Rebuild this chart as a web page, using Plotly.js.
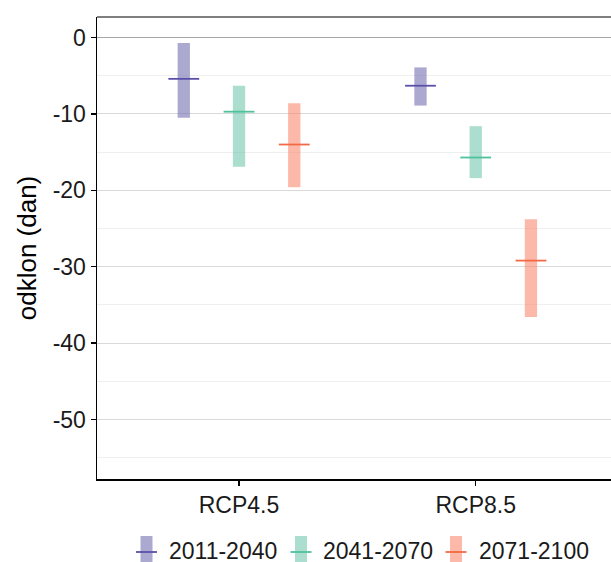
<!DOCTYPE html>
<html><head><meta charset="utf-8">
<script src="https://cdn.plot.ly/plotly-3.0.1.min.js"></script>
<style>html,body{margin:0;padding:0;background:#fff}</style>
</head><body><div id="chart" style="width:611px;height:562px"></div>
<script>
// ---- data ----
const categories = ["RCP4.5", "RCP8.5"];
const periods = ["2011-2040", "2041-2070", "2071-2100"];
const low_2011_2040 = [-10.5, -8.9];
const high_2011_2040 = [-0.7, -3.9];
const median_2011_2040 = [-5.4, -6.3];
const low_2041_2070 = [-16.9, -18.4];
const high_2041_2070 = [-6.3, -11.6];
const median_2041_2070 = [-9.7, -15.7];
const low_2071_2100 = [-19.6, -36.6];
const high_2071_2100 = [-8.6, -23.8];
const median_2071_2100 = [-14.0, -29.2];
const yTickVals = [0, -10, -20, -30, -40, -50];
const yTickText = ["0", "-10", "-20", "-30", "-40", "-50"];

// ---- styles ----
const fillColors = ["rgba(117,112,179,0.6)", "rgba(102,194,165,0.55)", "rgba(250,128,100,0.55)"];
const lineColors = ["#5b50a8", "#4fc29b", "#f26a45"];
const lows = [low_2011_2040, low_2041_2070, low_2071_2100];
const highs = [high_2011_2040, high_2041_2070, high_2071_2100];
const medians = [median_2011_2040, median_2041_2070, median_2071_2100];
const dodge = 0.7 / 3;
const barW = 0.052;

const traces = [];
periods.forEach((p, j) => {
  const xs = categories.map((c, i) => i + 1 + (j - 1) * dodge);
  traces.push({
    type: "bar", x: xs, base: lows[j], y: highs[j].map((h, i) => h - lows[j][i]),
    width: barW, marker: {color: fillColors[j], line: {width: 0}}, showlegend: false, hoverinfo: "skip"
  });
  traces.push({
    type: "scatter", mode: "markers", x: xs, y: medians[j],
    marker: {symbol: "line-ew", size: 22, color: lineColors[j], line: {color: lineColors[j], width: 1.8}},
    showlegend: false
  });
});

// layout geometry (pixels -> paper)
const L = 97, R = 611, T = 17, B = 479;
const px = v => (v - L) / (R - L);
const py = v => (B - v) / (B - T);

const shapes = [
  {type: "line", xref: "paper", yref: "paper", x0: 0, x1: 1, y0: 1, y1: 1, line: {color: "#555", width: 1.5}}
];
const annotations = [];
const legCx = [146.5, 301, 456];
const legTx = [167, 321, 477];
periods.forEach((p, j) => {
  shapes.push({type: "rect", xref: "paper", yref: "paper", x0: px(legCx[j] - 6), x1: px(legCx[j] + 6),
    y0: py(562), y1: py(536), fillcolor: fillColors[j], line: {width: 0}});
  shapes.push({type: "line", xref: "paper", yref: "paper", x0: px(legCx[j] - 10.5), x1: px(legCx[j] + 10.5),
    y0: py(552), y1: py(552), line: {color: lineColors[j], width: 1.8}});
  annotations.push({xref: "paper", yref: "paper", x: px(legTx[j]), y: py(551), xanchor: "left", yanchor: "middle",
    text: p, showarrow: false, font: {size: 23, color: "#1a1a1a"}});
});

const layout = {
  width: 611, height: 562,
  margin: {l: L, r: 611 - R, t: T, b: 562 - B, pad: 0},
  paper_bgcolor: "#fff", plot_bgcolor: "#fff",
  font: {family: "Liberation Sans, Arial, sans-serif", color: "#1a1a1a"},
  showlegend: false,
  xaxis: {
    range: [0.4, 0.4 + (R - L) / 236.7], tickvals: [1, 2], ticktext: categories,
    showgrid: false, zeroline: false, showline: true, linecolor: "#000", linewidth: 1.5,
    ticks: "outside", ticklen: 5, tickcolor: "#000", tickwidth: 1.2,
    tickfont: {size: 23, color: "#1a1a1a"}
  },
  yaxis: {
    range: [-57.8, 2.7], tickvals: yTickVals, ticktext: yTickText,
    showgrid: true, gridcolor: "#d9d9d9", gridwidth: 1,
    minor: {tickvals: [-5, -15, -25, -35, -45, -55], showgrid: true, gridcolor: "#efefef", gridwidth: 1, ticks: ""},
    zeroline: true, zerolinecolor: "#a6a6a6", zerolinewidth: 1.5,
    showline: true, linecolor: "#000", linewidth: 1.5,
    ticks: "outside", ticklen: 5, tickcolor: "#000", tickwidth: 1.2,
    tickfont: {size: 23, color: "#1a1a1a"},
    title: {text: "odklon (dan)", font: {size: 26, color: "#000"}, standoff: 8}
  },
  shapes: shapes, annotations: annotations
};
Plotly.newPlot("chart", traces, layout, {staticPlot: true, displayModeBar: false});
</script></body></html>
